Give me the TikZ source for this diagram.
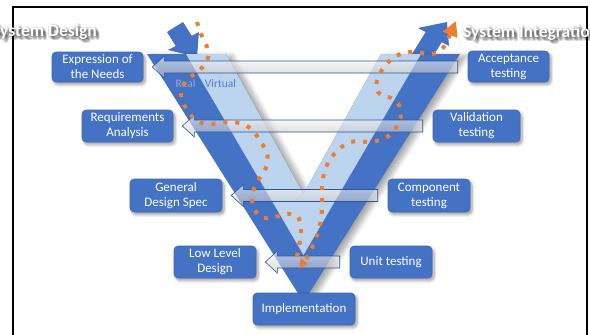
\documentclass[tikz,border=0pt]{standalone}
\usepackage{fontspec}
\setmainfont{Carlito}
\usetikzlibrary{calc,arrows.meta,shadows.blur}

\definecolor{vblue}{HTML}{4472C4}
\definecolor{lblue}{HTML}{BDD4EE}
\definecolor{boxedge}{HTML}{3F68B5}
\definecolor{flow}{HTML}{ED7D31}
\definecolor{arrowedge}{HTML}{2F5597}
\definecolor{realtxt}{HTML}{8FAADC}
\definecolor{virttxt}{HTML}{4F7FCB}

\tikzset{
  vbox/.style={draw=boxedge, line width=0.6pt, fill=vblue, rounded corners=4pt,
    text=white, align=center, inner sep=0pt, minimum height=32pt,
    font=\fontsize{13}{15}\selectfont,
    blur shadow={shadow xshift=2pt, shadow yshift=-2.5pt, shadow blur radius=3pt,
      shadow blur steps=6, shadow opacity=40}},
  feedback/.style={draw=arrowedge, line width=0.6pt, top color=white,
    bottom color=black!25, fill opacity=0.6},
  flowpath/.style={draw=flow, line width=4pt, dash pattern=on 4pt off 8pt},
  systext/.style={font=\fontsize{17.5}{20}\selectfont\bfseries, inner sep=0pt},
  bandlabel/.style={font=\fontsize{11.5}{13}\selectfont, inner sep=0pt},
}

% horizontal feedback arrow from a testing box back to its design box
\newcommand\testarrow[2]{%
  \path ($(#1.west)+(-10,0)$) coordinate (#1-a) ($(#2.east)+(9,0)$) coordinate (#2-a);
  \draw[feedback] let \p1=(#1-a), \p2=(#2-a) in
    (\p2) -- (\x2+12pt,\y2+11pt) -- (\x2+12pt,\y2+6pt) -- (\x1,\y2+6pt)
    -- (\x1,\y2-6pt) -- (\x2+12pt,\y2-6pt) -- (\x2+12pt,\y2-11pt) -- cycle;
}

% white heading with a soft grey halo
\newcommand\glowlabel[3]{%
  \foreach \dx/\dy [count=\i] in {1/1,2/2,3/2,2/3,0/1.5,1.5/0,-0.5/0.5,3/3,1/2.5,2.5/1,
      4/3,3/4,4/4,-1/1,1/-1,0/3,3/0,2/4.5}
    \node[systext, text=black, opacity=0.07, anchor=base west] (#1-g\i) at ($(#2)+(\dx,\dy)$) {#3};
  \node[systext, text=white, anchor=base west] (#1) at (#2) {#3};
}

\begin{document}
\begin{tikzpicture}[x=1pt, y=-1pt]
\useasboundingbox (0,0) rectangle (590,335);
\clip (0,0) rectangle (590,335);

% frame
\draw[line width=1.6pt] (13,7) rectangle (587,345);

% block arrows entering and leaving the V
\fill[vblue] (167,32) -- (183,22) -- (191.8,35.8) -- (199,32) -- (197,57)
  -- (168,50) -- (175.7,46) -- cycle;
\fill[vblue] (411.7,54.5) -- (427.7,64.5) -- (441.8,42.2) -- (449,46) -- (447,22)
  -- (418,28) -- (425.7,32) -- cycle;

% the V: real band and virtual band
\fill[vblue, blur shadow={shadow xshift=6pt, shadow yshift=-2pt, shadow blur radius=5pt,
    shadow blur steps=8, shadow opacity=35}]
  (147,54) -- (303.5,302) -- (460,54) -- (381,54) -- (303.5,194) -- (226,54) -- cycle;
\fill[lblue] (186,54) -- (303.5,255) -- (421,54) -- (381,54) -- (303.5,194) -- (226,54) -- cycle;

% boxes
\node[vbox, minimum width=91pt, minimum height=30pt] (exp)  at (97.5,67)   {Expression of\\the Needs};
\node[vbox, minimum width=81pt, minimum height=31pt] (acc)  at (508.5,66.5) {Acceptance\\testing};
\node[vbox, minimum width=91pt] (req)  at (127.5,126)  {Requirements\\Analysis};
\node[vbox, minimum width=87pt] (val)  at (476.5,126)  {Validation\\testing};
\node[vbox, minimum width=92pt, minimum height=33pt] (gen)  at (176,195.5) {General\\Design Spec};
\node[vbox, minimum width=82pt, minimum height=33pt] (comp) at (429,195.5) {Component\\testing};
\node[vbox, minimum width=82pt] (low)  at (215,262)    {Low Level\\Design};
\node[vbox, minimum width=82pt] (unit) at (391,262)    {Unit testing};
\node[vbox, minimum width=102pt] (impl) at (304,309)   {Implementation};

% feedback arrows
\testarrow{acc}{exp}
\testarrow{val}{req}
\testarrow{comp}{gen}
\testarrow{unit}{low}

% band labels
\node[bandlabel, text=realtxt] (real) at (185.5,84) {Real};
\node[bandlabel, text=virttxt] (virt) at (220.5,84) {Virtual};

% design path down the left arm
\draw[flowpath, -{Triangle[length=8pt, width=10pt]}] plot[smooth, tension=0.55] coordinates {
  (197,22) (201,34) (207,47) (208,58) (200,70) (188,79) (181,90) (183,102) (189,113)
  (199,122) (212,124) (228,122) (243,124) (253,131) (261,142) (267,153) (267,165)
  (261,176) (255,186) (252,197) (254,208) (261,217) (272,218) (285,214) (297,216)
  (301,227) (300,240) (298,252) (297,261) (308,264)};
\coordinate (down-end) at (308,264);

% integration path up the right arm
\coordinate (up-start) at (306,259);
\draw[flowpath, -{Triangle[length=15pt, width=15pt]}] plot[smooth, tension=0.55] coordinates {
  (306,259) (310,252) (314,243) (318,232) (321,220) (322,208) (322,197) (322,185)
  (324,174) (328,163) (336,152) (346,144) (356,141) (368,142) (380,140) (390,135)
  (397,126) (401,115) (399,105) (391,98) (381,95) (376,88) (378,78) (384,67)
  (393,58) (404,53) (416,52) (428,54) (439,52) (446,43) (456,21)};

% headings
\glowlabel{sysd}{-8,36}{System Design}
\glowlabel{sysi}{463,37}{System Integration}
\end{tikzpicture}
\end{document}
